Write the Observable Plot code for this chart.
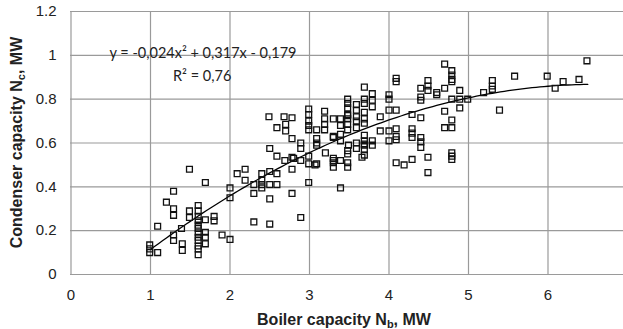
<!DOCTYPE html>
<html><head><meta charset="utf-8">
<script src="https://cdn.jsdelivr.net/npm/d3@7"></script>
<script src="https://cdn.jsdelivr.net/npm/@observablehq/plot@0.6"></script>
<style>html,body{margin:0;padding:0;background:#fff} svg{display:block}</style>
</head><body><div id="chart"></div>
<script>
// Boiler capacity Nb (MW) and condenser capacity Nc (MW)
const boilerMW = [
  0.99,0.99,0.99,1.09,1.09,1.20,1.29,1.29,1.29,1.29,1.29,1.39,1.40,1.40,1.49,1.49,1.49,
  1.60,1.60,1.60,1.60,1.60,1.60,1.60,1.60,1.60,1.60,1.60,1.60,
  1.69,1.69,1.69,1.69,1.69,1.80,1.80,1.90,2.00,2.00,2.00,2.09,2.19,2.19,2.30,2.30,2.30,
  2.40,2.40,2.40,2.40,2.50,2.50,2.50,2.50,2.50,2.59,2.59,2.59,2.69,2.78,2.78,2.78,2.89,2.89,2.89,
  2.99,2.99,2.99,3.09,3.09,3.09,3.20,3.30,3.30,2.80,2.89,3.07,3.30,3.39,3.48,3.48,3.39,3.66,
  2.49,2.68,2.78,2.59,2.70,2.70,2.78,
  2.99,2.99,2.99,2.99,2.99,3.09,3.09,3.19,3.19,3.19,3.19,3.30,3.39,3.39,3.39,3.48,3.48,3.48,3.48,
  3.59,3.59,3.69,3.69,3.30,3.39,3.49,3.59,3.59,3.69,3.69,3.69,3.48,3.48,3.48,3.59,3.69,3.69,3.69,
  3.79,3.79,3.79,3.59,3.59,3.48,
  3.89,4.00,4.00,4.00,4.09,4.09,4.09,4.29,4.40,4.40,4.40,4.40,4.49,4.49,4.49,4.60,4.60,4.70,4.70,
  4.79,4.79,4.79,4.79,4.89,4.70,4.79,4.89,4.89,4.99,4.79,4.70,4.79,3.89,4.00,4.09,4.09,4.09,4.00,
  4.29,4.29,4.29,4.40,4.40,4.40,3.69,3.69,3.69,3.79,3.79,3.69,4.09,4.19,4.29,4.49,4.49,4.79,4.79,4.79,
  5.19,5.30,5.30,5.30,5.39,5.58,5.99,6.09,6.19,6.39,6.49,3.48,3.48,3.30,3.30
];
const condenserMW = [
  0.135,0.117,0.100,0.100,0.220,0.330,0.380,0.300,0.270,0.180,0.155,0.210,0.140,0.110,0.480,0.290,0.260,
  0.315,0.290,0.265,0.245,0.225,0.210,0.190,0.170,0.155,0.130,0.117,0.090,
  0.420,0.250,0.193,0.170,0.140,0.265,0.245,0.180,0.160,0.395,0.350,0.460,0.480,0.430,0.410,0.370,0.240,
  0.460,0.430,0.410,0.395,0.470,0.410,0.345,0.230,0.575,0.460,0.410,0.540,0.520,0.535,0.480,0.370,0.260,0.600,0.575,
  0.540,0.505,0.420,0.505,0.600,0.590,0.555,0.520,0.490,0.530,0.520,0.500,0.510,0.520,0.510,0.490,0.395,0.535,
  0.720,0.720,0.715,0.670,0.655,0.685,0.620,
  0.755,0.730,0.700,0.680,0.660,0.660,0.620,0.745,0.710,0.685,0.660,0.710,0.710,0.680,0.640,0.730,0.710,0.685,0.660,
  0.700,0.670,0.710,0.690,0.630,0.610,0.590,0.600,0.575,0.590,0.570,0.855,0.800,0.780,0.760,0.775,0.800,0.780,0.740,
  0.825,0.795,0.765,0.750,0.720,0.725,
  0.720,0.820,0.800,0.750,0.750,0.895,0.880,0.730,0.715,0.850,0.810,0.795,0.885,0.860,0.840,0.830,0.820,0.960,0.850,
  0.930,0.910,0.890,0.880,0.840,0.745,0.800,0.800,0.760,0.800,0.705,0.670,0.670,0.655,0.655,0.665,0.630,0.615,0.610,
  0.665,0.645,0.625,0.625,0.605,0.580,0.635,0.610,0.595,0.610,0.590,0.545,0.510,0.500,0.525,0.535,0.465,0.555,0.540,0.525,
  0.830,0.885,0.860,0.845,0.750,0.905,0.905,0.850,0.880,0.890,0.975,0.565,0.550,0.530,0.625
];
const xTicks = [0, 1, 2, 3, 4, 5, 6, 7];
const yTicks = [0, 0.2, 0.4, 0.6, 0.8, 1, 1.2];
const yTickLabels = ["0", "0.2", "0.4", "0.6", "0.8", "1", "1.2"];
// trendline as printed on the chart: y = -0,024x² + 0,317x - 0,179, drawn for x from 1 to 6.5
const trendCoef = [-0.024, 0.317, -0.179];
const trendSpan = [1, 6.5];
const equationText = ["y = -0,024x² + 0,317x - 0,179", "R² = 0,76"];
const equationAt = [[1.66, 1.009], [1.65, 0.904]];
const xTitle = ["Boiler capacity N", "b", ", MW"];
const yTitle = ["Condenser capacity N", "c", ", MW"];

const points = boilerMW.map((x, i) => ({x, y: condenserMW[i]}));
const trend = d3.range(trendSpan[0], trendSpan[1] + 1e-9, 0.05).map(x => ({x, y: trendCoef[0]*x*x + trendCoef[1]*x + trendCoef[2]}));
const eq = equationText.map((t, i) => ({t, x: equationAt[i][0], y: equationAt[i][1]}));

const grid = "#9a9a9a";
const plot = Plot.plot({
  width: 623, height: 329,
  marginLeft: 70, marginRight: 0, marginTop: 11, marginBottom: 55,
  x: {domain: [0, 7], range: [70.5, 627]},
  y: {domain: [0, 1.2], range: [274, 11]},
  style: {fontFamily: "'Liberation Sans', Arial, sans-serif", fontSize: "15px", color: "#222", background: "#fff", overflow: "hidden"},
  marks: [
    Plot.gridX(xTicks, {stroke: grid, strokeOpacity: 1, strokeWidth: 1.2}),
    Plot.gridY(yTicks, {stroke: grid, strokeOpacity: 1, strokeWidth: 1.2}),
    Plot.axisX(xTicks, {tickSize: 0, tickPadding: 15, label: null, fontSize: 15}),
    Plot.axisY(yTicks, {tickSize: 0, tickPadding: 14, label: null, fontSize: 15, tickFormat: (d, i) => yTickLabels[i]}),
    Plot.line(trend, {x: "x", y: "y", stroke: "#000", strokeWidth: 1.3}),
    Plot.dot(points, {x: "x", y: "y", symbol: "square", r: 3.3, stroke: "#111", strokeWidth: 1.3, fill: "none"}),
    Plot.text(eq, {x: "x", y: "y", text: "t", fontSize: 14.5, fontFamily: "Lato, 'Open Sans', sans-serif", fill: "#222"})
  ]
});
document.getElementById("chart").appendChild(plot);

const svg = d3.select(plot);
function title(parts, x, y, rot) {
  const t = svg.append("text")
    .attr("transform", `translate(${x},${y}) rotate(${rot})`)
    .attr("text-anchor", "middle")
    .attr("font-family", "'Liberation Sans', Arial, sans-serif")
    .attr("font-weight", "bold").attr("font-size", 16).attr("fill", "#222");
  t.append("tspan").text(parts[0]);
  t.append("tspan").attr("font-size", 11).attr("dy", 3).text(parts[1]);
  t.append("tspan").attr("dy", -3).text(parts[2]);
}
title(xTitle, 344, 324.5, 0);
title(yTitle, 22, 142.5, -90);
</script>
</body></html>
